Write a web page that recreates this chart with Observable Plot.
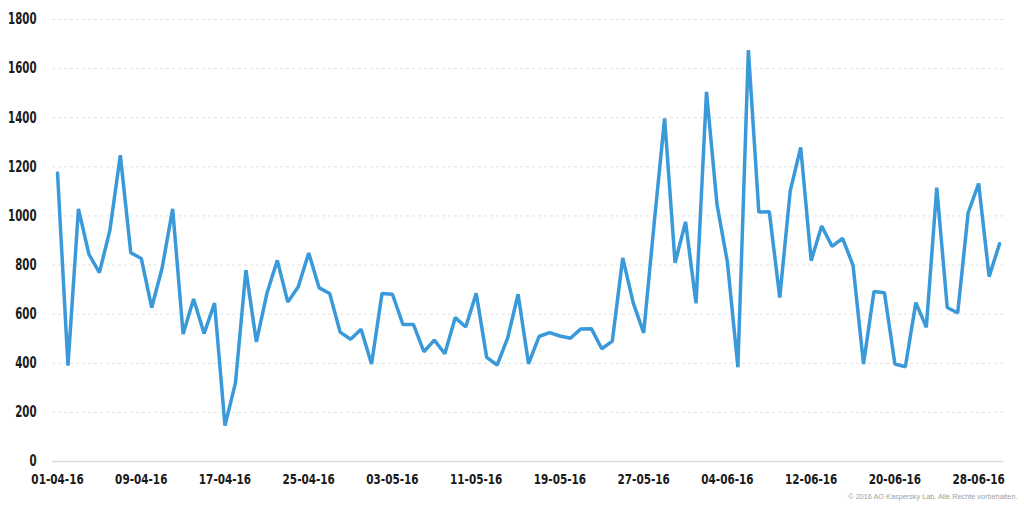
<!DOCTYPE html>
<html>
<head>
<meta charset="utf-8">
<script src="https://cdn.jsdelivr.net/npm/d3@7"></script>
<script src="https://cdn.jsdelivr.net/npm/@observablehq/plot@0.6"></script>
<style>
  html, body { margin: 0; padding: 0; background: #fff; }
  #chart { width: 1024px; height: 506px; }
</style>
</head>
<body>
<div id="chart"></div>
<script>
// Daily values, 01-04-2016 .. 30-06-2016
const startDate = "2016-04-01";
const values = [
  1175, 390, 1029, 844, 769, 941, 1247, 850, 827, 627,
  789, 1029, 519, 662, 521, 645, 146, 320, 779, 487,
  684, 819, 649, 712, 849, 707, 684, 527, 498, 539,
  397, 684, 681, 558, 558, 447, 494, 439, 586, 548,
  685, 424, 393, 502, 681, 398, 509, 525, 511, 502,
  540, 541, 459, 490, 829, 646, 524, 970, 1397, 809,
  976, 644, 1505, 1048, 811, 384, 1675, 1016, 1017, 668,
  1102, 1279, 818, 959, 876, 909, 799, 397, 692, 687,
  397, 386, 647, 546, 1115, 627, 605, 1013, 1132, 753,
  887
];
const xTickLabels = ["01-04-16","09-04-16","17-04-16","25-04-16","03-05-16","11-05-16",
                     "19-05-16","27-05-16","04-06-16","12-06-16","20-06-16","28-06-16"];
const yTicks = [0, 200, 400, 600, 800, 1000, 1200, 1400, 1600, 1800];
const copyright = "© 2016 AO Kaspersky Lab. Alle Rechte vorbehalten.";

const parseDMY = d3.utcParse("%d-%m-%y");
const start = d3.utcParse("%Y-%m-%d")(startDate);
const data = values.map((v, i) => ({date: d3.utcDay.offset(start, i), value: v}));
const xTicks = xTickLabels.map(parseDMY);
const first = data[0].date, last = data[data.length - 1].date;
const hour = 3600 * 1000;

const font = "'DejaVu Sans', sans-serif";

const chart = Plot.plot({
  width: 1024,
  height: 506,
  marginLeft: 52,
  marginRight: 21,
  marginTop: 19,
  marginBottom: 45,
  style: {fontFamily: font, background: "#fff", overflow: "visible"},
  x: {type: "utc", domain: [new Date(+first - 11.5 * hour), new Date(+last + 9 * hour)]},
  y: {domain: [0, 1800]},
  marks: [
    Plot.ruleY(yTicks.filter(d => d > 0), {stroke: "#e2e2e2", strokeDasharray: "3,3", strokeWidth: 1}),
    Plot.ruleY([0], {stroke: "#dcdcdc", strokeWidth: 1.5}),
    Plot.axisY({ticks: yTicks, tickFormat: d => String(d), tickSize: 0, tickPadding: 16, label: null,
                fontSize: 15, fontWeight: "bold", fill: "#1a1a1a"}),
    Plot.axisX({ticks: xTicks, tickFormat: d3.utcFormat("%d-%m-%y"), tickSize: 0, tickPadding: 12,
                label: null, fontSize: 14.5, fontWeight: "bold", fill: "#1a1a1a"}),
    Plot.line(data, {x: "date", y: "value", stroke: "#3a9ad9", strokeWidth: 3.5,
                     strokeLinejoin: "miter", strokeLinecap: "round"}),
    Plot.text([copyright], {frameAnchor: "bottom-right", text: d => d, dx: 14, dy: 37,
                            fontSize: 7.3, fill: "#a0a0a0", fontFamily: "'Liberation Sans', Arial, sans-serif"})
  ]
});
document.getElementById("chart").appendChild(chart);

// Emulate the condensed bold face of the reference by compressing tick labels horizontally
function condense(selector, factor) {
  chart.querySelectorAll(selector).forEach(t => {
    const len = t.getComputedTextLength();
    t.setAttribute("textLength", (len * factor).toFixed(1));
    t.setAttribute("lengthAdjust", "spacingAndGlyphs");
  });
}
condense('g[aria-label="x-axis tick label"] text', 0.72);
condense('g[aria-label="y-axis tick label"] text', 0.68);
</script>
</body>
</html>
